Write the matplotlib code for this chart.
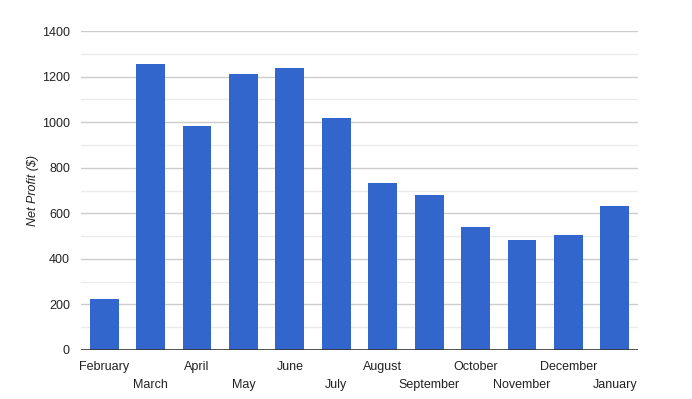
import matplotlib
matplotlib.use("Agg")
import matplotlib.pyplot as plt
import matplotlib.transforms as mtransforms
import numpy as np

months = ["February", "March", "April", "May", "June", "July", "August",
          "September", "October", "November", "December", "January"]
net_profit = [225, 1255, 985, 1210, 1238, 1020, 735, 680, 540, 483, 505, 632]
y_ticks = [0, 200, 400, 600, 800, 1000, 1200, 1400]

plt.rcParams['font.family'] = ['Liberation Sans', 'DejaVu Sans']

W, H = 692, 399
fig = plt.figure(figsize=(W / 100, H / 100), dpi=100)
ax = fig.add_axes([81 / W, (H - 350) / H, (638 - 81) / W, (350 - 31) / H])

x = np.arange(len(months))
ax.bar(x, net_profit, width=0.62, color="#3366cc", zorder=3)
ax.set_xlim(-0.5, len(months) - 0.5)
ax.set_ylim(0, 1400)

for v in range(100, 1400, 200):
    ax.axhline(v, color="#ebebeb", lw=1, zorder=1)
for v in y_ticks[1:]:
    ax.axhline(v, color="#cccccc", lw=1, zorder=2)
ax.axhline(0, color="#333333", lw=1.2, zorder=4)

ax.set_yticks(y_ticks)
ax.set_yticklabels([str(v) for v in y_ticks], fontsize=9, color="#222222")
ax.tick_params(axis="y", length=0, pad=8)
ax.set_xticks([])

trans = mtransforms.blended_transform_factory(ax.transData, ax.transAxes)
for i, m in enumerate(months):
    ypos = -0.035 if i % 2 == 0 else -0.09
    ax.text(i, ypos, m, transform=trans, ha="center", va="top",
            fontsize=9, color="#222222")

for s in ax.spines.values():
    s.set_visible(False)

fig.text(33 / W, 1 - 190 / H, "Net Profit ($)", rotation=90, ha="center",
         va="center", fontsize=9, style="italic", color="#222222")

fig.savefig("out.png", dpi=100)
